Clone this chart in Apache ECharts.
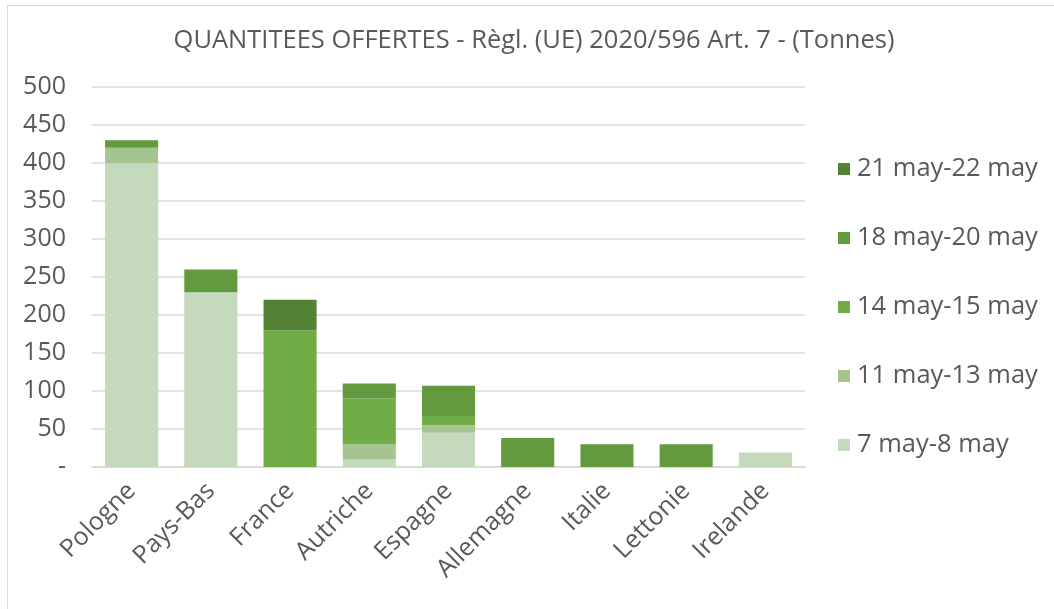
<!DOCTYPE html>
<html>
<head>
<meta charset="utf-8">
<script src="https://cdn.jsdelivr.net/npm/echarts@6/dist/echarts.min.js"></script>
<style>
  html, body { margin: 0; padding: 0; background: #fff; }
  #frame {
    position: absolute; left: 7px; top: 5px; width: 1100px; height: 700px;
    border: 1px solid #d9d9d9; box-sizing: border-box;
  }
  #chart { position: absolute; left: 0; top: 0; width: 1054px; height: 609px; }
</style>
</head>
<body>
<div id="frame"></div>
<div id="chart"></div>
<script>
// chart data (tonnes)
const countries = ['Pologne', 'Pays-Bas', 'France', 'Autriche', 'Espagne', 'Allemagne', 'Italie', 'Lettonie', 'Irelande']
const periods = ['7 may-8 may', '11 may-13 may', '14 may-15 may', '18 may-20 may', '21 may-22 may']
const may07_08 = [400, 230, 0, 10, 45, 0, 0, 0, 19]
const may11_13 = [20, 0, 0, 20, 10, 0, 0, 0, 0]
const may14_15 = [0, 0, 180, 60, 12, 0, 0, 0, 0]
const may18_20 = [10, 30, 0, 20, 40, 38, 30, 30, 0]
const may21_22 = [0, 0, 40, 0, 0, 0, 0, 0, 0]
const colours = ['#c5d9bc', '#a4c590', '#70ad47', '#629a3d', '#548235']

const font = '"Open Sans", sans-serif'
const txt = '#595959'

const values = [may07_08, may11_13, may14_15, may18_20, may21_22]
const series = periods.map((name, i) => {
  return {
    name: name,
    type: 'bar',
    stack: 'total',
    barWidth: '67%',
    itemStyle: { color: colours[i] },
    data: values[i]
  }
})

const chart = echarts.init(document.getElementById('chart'))
chart.setOption({
  animation: false,
  textStyle: { fontFamily: font },
  title: {
    text: 'QUANTITEES OFFERTES - Règl. (UE) 2020/596 Art. 7 - (Tonnes)',
    left: 529, top: 23, textAlign: 'center',
    textStyle: { fontFamily: font, fontSize: 25.5, fontWeight: 'normal', color: txt }
  },
  legend: {
    orient: 'vertical',
    left: 833, top: 151,
    itemWidth: 12, itemHeight: 12, itemGap: 43,
    icon: 'rect',
    data: periods.slice().reverse(),
    textStyle: { fontFamily: font, fontSize: 25.5, color: txt, padding: [0, 0, 0, 2] }
  },
  grid: { left: 92, right: 249, top: 87, bottom: 142 },
  xAxis: {
    type: 'category',
    data: countries,
    axisTick: { show: false },
    axisLine: { lineStyle: { color: '#d9d9d9', width: 1.5 } },
    axisLabel: { rotate: 45, fontSize: 25, color: txt, fontFamily: font, margin: 20 }
  },
  yAxis: {
    type: 'value',
    min: 0, max: 500, interval: 50,
    axisLabel: {
      fontSize: 25, color: txt, fontFamily: font, margin: 26,
      formatter: (v) => v === 0 ? '-' : v
    },
    splitLine: { lineStyle: { color: '#d9d9d9', width: 1.5 } }
  },
  series: series
})
</script>
</body>
</html>
